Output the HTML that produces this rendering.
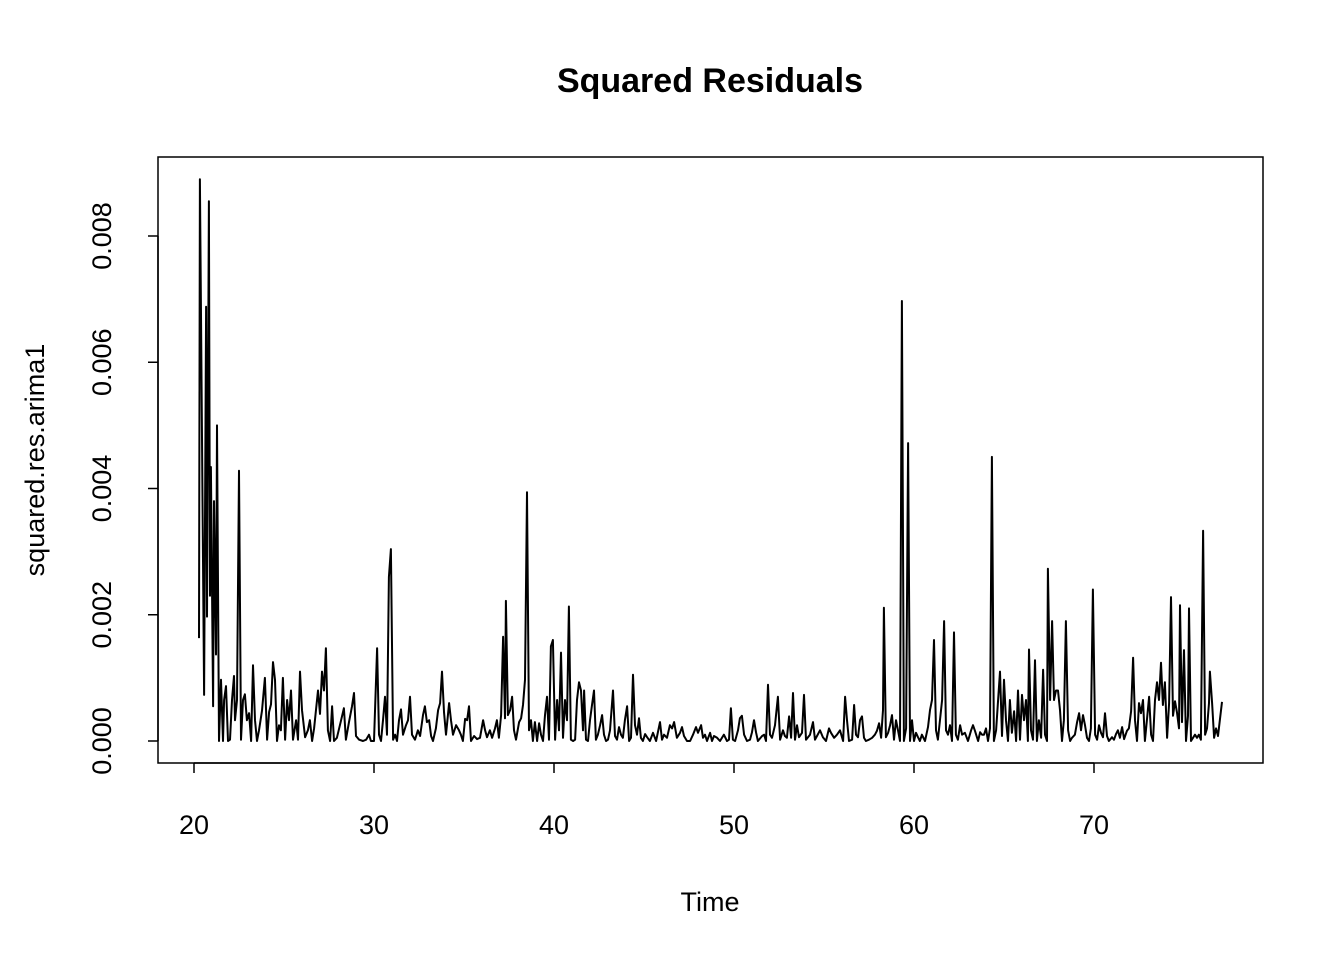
<!DOCTYPE html>
<html><head><meta charset="utf-8"><style>
html,body{margin:0;padding:0;background:#fff;}
svg{display:block;font-family:"Liberation Sans",Arial,sans-serif;}
</style></head><body>
<svg id="chart" width="1344" height="960" viewBox="0 0 1344 960">
<rect width="1344" height="960" fill="#fff"/>
<text x="710" y="92" text-anchor="middle" font-size="34" font-weight="bold">Squared Residuals</text>
<rect x="158" y="157" width="1105" height="606" fill="none" stroke="#000" stroke-width="1.5"/>
<text x="710" y="911" text-anchor="middle" font-size="27">Time</text>
<text transform="translate(44,460) rotate(-90)" text-anchor="middle" font-size="27">squared.res.arima1</text>
<g id="xaxis"></g>
<g id="yaxis"></g>
<path id="series" fill="none" stroke="#000" stroke-width="2" stroke-linejoin="round"/>
</svg>
<script>
const xTicks=[20,30,40,50,60,70];
const yTicks=[0,0.002,0.004,0.006,0.008];
const yTickLabels=["0.000","0.002","0.004","0.006","0.008"];
const times=[20.28,20.33,20.56,20.67,20.72,20.83,20.89,20.94,21.06,21.11,21.22,21.28,21.39,21.5,21.61,21.67,21.78,21.89,22.0,22.11,22.22,22.28,22.39,22.5,22.61,22.72,22.83,22.94,23.06,23.17,23.28,23.39,23.5,23.61,23.78,23.94,24.06,24.17,24.28,24.39,24.5,24.61,24.72,24.83,24.94,25.06,25.17,25.28,25.39,25.5,25.67,25.78,25.89,26.0,26.17,26.33,26.44,26.56,26.67,26.89,27.0,27.11,27.22,27.33,27.44,27.56,27.67,27.78,27.94,28.17,28.33,28.44,28.61,28.78,28.89,29.0,29.17,29.39,29.56,29.72,29.83,30.0,30.17,30.28,30.39,30.5,30.61,30.72,30.83,30.94,31.06,31.17,31.28,31.39,31.5,31.61,31.78,31.89,32.0,32.11,32.28,32.44,32.56,32.72,32.83,32.94,33.06,33.17,33.28,33.44,33.56,33.67,33.78,33.89,34.0,34.17,34.28,34.39,34.56,34.72,34.83,34.94,35.06,35.17,35.28,35.39,35.56,35.72,35.89,36.06,36.17,36.28,36.44,36.56,36.72,36.83,36.94,37.06,37.17,37.28,37.33,37.44,37.56,37.67,37.78,37.89,38.06,38.17,38.28,38.39,38.5,38.61,38.72,38.83,38.94,39.06,39.17,39.28,39.39,39.5,39.61,39.72,39.83,39.94,40.06,40.17,40.28,40.39,40.5,40.61,40.72,40.83,40.94,41.06,41.17,41.28,41.39,41.5,41.61,41.67,41.78,41.89,42.0,42.11,42.22,42.33,42.44,42.56,42.67,42.78,42.89,43.0,43.11,43.28,43.39,43.5,43.61,43.72,43.83,43.94,44.06,44.17,44.28,44.39,44.5,44.61,44.72,44.83,44.94,45.06,45.17,45.33,45.5,45.67,45.89,46.0,46.11,46.28,46.44,46.56,46.67,46.83,47.0,47.11,47.22,47.39,47.56,47.72,47.89,48.0,48.17,48.28,48.39,48.5,48.67,48.78,48.89,49.06,49.22,49.44,49.61,49.72,49.83,49.94,50.06,50.22,50.33,50.44,50.56,50.72,50.89,51.0,51.11,51.22,51.33,51.56,51.67,51.78,51.89,52.0,52.11,52.28,52.44,52.56,52.72,52.83,52.94,53.06,53.17,53.28,53.39,53.5,53.61,53.78,53.89,54.0,54.11,54.22,54.39,54.5,54.61,54.78,54.94,55.11,55.28,55.39,55.56,55.72,55.89,56.06,56.17,56.28,56.39,56.56,56.67,56.78,56.89,57.0,57.11,57.22,57.33,57.5,57.67,57.83,57.94,58.06,58.17,58.28,58.33,58.44,58.56,58.67,58.78,58.89,59.0,59.11,59.22,59.33,59.44,59.56,59.67,59.78,59.89,60.0,60.11,60.22,60.33,60.44,60.61,60.78,60.89,61.0,61.11,61.22,61.33,61.44,61.56,61.67,61.78,61.89,62.0,62.11,62.22,62.33,62.44,62.56,62.67,62.83,63.0,63.17,63.28,63.39,63.56,63.67,63.78,63.89,64.0,64.11,64.22,64.33,64.44,64.56,64.67,64.78,64.89,65.0,65.11,65.22,65.33,65.44,65.56,65.67,65.78,65.89,66.0,66.11,66.22,66.33,66.39,66.5,66.61,66.72,66.83,66.94,67.06,67.17,67.28,67.39,67.44,67.56,67.67,67.78,67.89,68.0,68.11,68.22,68.33,68.44,68.56,68.67,68.78,68.94,69.06,69.17,69.28,69.39,69.5,69.61,69.72,69.83,69.94,70.06,70.17,70.28,70.39,70.5,70.61,70.72,70.83,71.0,71.11,71.22,71.33,71.44,71.56,71.67,71.83,71.94,72.06,72.17,72.28,72.39,72.5,72.61,72.72,72.83,72.94,73.06,73.17,73.28,73.39,73.5,73.61,73.72,73.83,73.94,74.06,74.17,74.28,74.39,74.5,74.61,74.72,74.78,74.89,75.0,75.11,75.22,75.28,75.39,75.5,75.61,75.72,75.83,75.94,76.06,76.17,76.28,76.39,76.44,76.56,76.67,76.78,76.89,77.0,77.11];
const valuesMilli=[1.63,8.9,0.73,6.88,1.97,8.55,2.3,4.34,0.55,3.8,1.37,5.0,0,0.97,0,0.65,0.87,0,0.02,0.65,1.03,0.33,0.65,4.28,0.02,0.65,0.74,0.33,0.44,0,1.2,0.33,0,0.17,0.48,1.0,0.02,0.46,0.58,1.25,0.97,0,0.25,0.17,1.0,0.02,0.65,0.33,0.8,0.02,0.33,0.02,1.1,0.49,0.06,0.17,0.33,0,0.2,0.8,0.43,1.1,0.8,1.47,0.17,0,0.55,0,0.05,0.33,0.52,0.02,0.3,0.55,0.76,0.08,0.02,0,0.02,0.1,0,0,1.47,0.1,0,0.33,0.7,0.1,2.6,3.04,0.02,0.1,0,0.33,0.5,0.1,0.25,0.33,0.7,0.1,0.02,0.17,0.08,0.41,0.55,0.3,0.33,0.08,0,0.2,0.49,0.6,1.1,0.46,0.1,0.6,0.33,0.1,0.25,0.17,0.1,0,0.35,0.33,0.55,0,0.08,0.03,0.05,0.33,0.17,0.06,0.17,0.05,0.2,0.33,0.05,0.41,1.65,0.36,2.22,0.41,0.49,0.7,0.17,0.02,0.3,0.36,0.57,0.97,3.94,0.17,0.33,0,0.3,0,0.28,0.1,0,0.41,0.7,0.02,1.5,1.6,0.02,0.65,0.17,1.4,0.05,0.65,0.33,2.13,0.02,0,0.02,0.65,0.93,0.8,0.17,0.8,0.02,0,0.33,0.57,0.8,0.02,0.1,0.25,0.41,0.1,0,0.02,0.17,0.8,0.08,0.02,0.22,0.1,0.05,0.33,0.55,0,0.05,1.05,0.25,0.1,0.36,0.05,0,0.11,0.06,0,0.13,0,0.3,0.02,0.1,0.05,0.25,0.2,0.3,0.05,0.13,0.22,0.08,0,0,0.1,0.22,0.13,0.25,0.05,0.1,0,0.13,0,0.08,0.05,0,0.1,0,0.02,0.52,0.02,0,0.17,0.36,0.4,0.1,0,0.02,0.14,0.33,0.14,0,0.08,0.1,0,0.89,0.1,0.05,0.25,0.7,0.02,0.17,0.08,0.05,0.39,0.05,0.76,0.02,0.25,0.06,0.13,0.73,0.02,0.06,0.1,0.3,0.02,0.08,0.17,0.06,0,0.2,0.13,0.05,0.1,0.17,0,0.7,0.33,0,0.02,0.57,0.1,0.06,0.33,0.39,0.05,0,0.02,0.05,0.1,0.16,0.28,0.05,0.49,2.11,0.06,0.13,0.25,0.41,0.02,0.33,0.17,0,6.97,0,0.2,4.72,0,0.33,0,0.13,0.06,0,0.1,0,0.22,0.49,0.65,1.6,0.17,0.02,0.32,0.65,1.9,0.17,0.1,0.25,0,1.72,0.1,0.02,0.25,0.1,0.13,0,0.17,0.25,0.16,0,0.14,0.1,0.1,0.2,0,0.2,4.5,0,0.17,0.65,1.1,0.08,0.97,0.33,0,0.65,0.13,0.47,0,0.8,0.02,0.73,0.33,0.65,0,1.45,0.17,0.02,1.28,0,0.33,0.05,1.13,0.1,0,2.73,0.65,1.9,0.65,0.8,0.8,0.49,0,0.33,1.9,0.17,0,0.05,0.1,0.3,0.44,0.17,0.41,0.25,0.05,0,0.2,2.4,0.1,0.02,0.25,0.13,0.06,0.44,0.08,0,0.06,0.02,0.11,0.17,0.05,0.22,0.03,0.16,0.2,0.47,1.32,0.33,0,0.6,0.44,0.65,0,0.33,0.7,0.1,0,0.65,0.93,0.65,1.24,0.57,0.93,0.05,0.6,2.28,0.4,0.63,0.45,0.2,2.15,0.3,1.44,0,0.4,2.1,0,0.05,0.1,0.05,0.1,0.02,3.33,0.1,0.2,0.6,1.1,0.6,0.05,0.2,0.08,0.35,0.62];

const NS="http://www.w3.org/2000/svg";
function xScale(t){return 194+(t-20)*18;}
function yScale(v){return 741-v*63125;}
const xg=document.getElementById('xaxis');
const yg=document.getElementById('yaxis');
function mk(tag,attrs,parent){const e=document.createElementNS(NS,tag);for(const k in attrs)e.setAttribute(k,attrs[k]);parent.appendChild(e);return e;}

let ax=mk('line',{x1:xScale(xTicks[0]),x2:xScale(xTicks[xTicks.length-1]),y1:763,y2:763,stroke:'#000','stroke-width':1.5},xg);


xTicks.forEach(t=>{
  const l=mk('line',{x1:xScale(t),x2:xScale(t),y1:763,y2:773,stroke:'#000','stroke-width':1.5},xg);
  
  
  const tx=mk('text',{x:xScale(t),y:834,'text-anchor':'middle','font-size':'27'},xg);
  tx.textContent=String(t);
  
  
});
let ay=mk('line',{x1:158,x2:158,y1:yScale(yTicks[0]),y2:yScale(yTicks[yTicks.length-1]),stroke:'#000','stroke-width':1.5},yg);


yTicks.forEach((v,i)=>{
  const y=yScale(v);
  const l=mk('line',{x1:148,x2:158,y1:y,y2:y,stroke:'#000','stroke-width':1.5},yg);
  
  
  const tx=mk('text',{transform:'translate(111,'+y+') rotate(-90)','text-anchor':'middle','font-size':'27'},yg);
  tx.textContent=yTickLabels[i];
  
  
});
let d='';
times.forEach((t,i)=>{d+=(i?'L':'M')+xScale(t).toFixed(1)+','+yScale(valuesMilli[i]/1000).toFixed(1);});
document.getElementById('series').setAttribute('d',d);
</script>
</body></html>
